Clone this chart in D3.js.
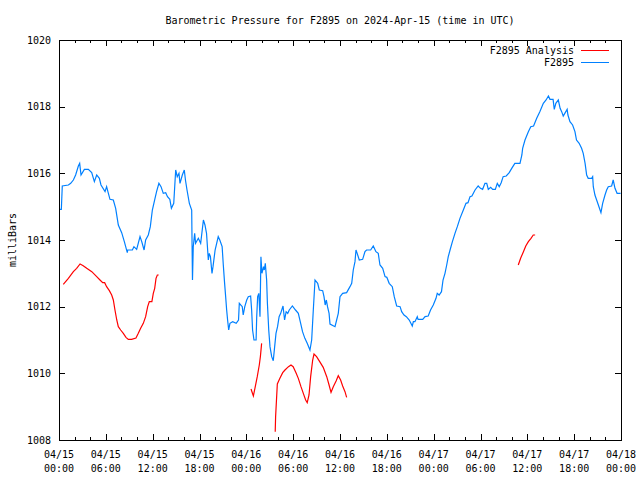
<!DOCTYPE html>
<html>
<head>
<meta charset="utf-8">
<script src="https://cdn.jsdelivr.net/npm/d3@7"></script>
<style>
  body { margin: 0; background: #fff; }
  svg text { font-family: "DejaVu Sans Mono", "Liberation Mono", monospace; font-size: 10px; fill: #000; }
</style>
</head>
<body>
<main></main>
<script>
// hours after 2024-04-15 00:00 UTC
const stationHours = [0,0.3,0.42,1.2,1.5,1.84,2.13,2.48,2.65,2.82,3.25,3.76,4.19,4.53,4.83,5.17,5.38,5.9,6.1,6.3,6.53,6.96,7.26,7.6,8.03,8.37,8.75,8.8,9.4,9.6,9.95,10.38,10.6,10.9,11.1,11.44,11.7,11.96,12.3,12.5,12.8,13.07,13.36,13.67,13.9,14.2,14.4,14.7,14.95,15.15,15.37,15.5,15.8,16.05,16.2,16.4,16.7,17.0,17.05,17.1,17.2,17.38,17.5,17.85,18.15,18.5,18.7,18.9,19.13,19.25,19.4,19.6,19.73,20.0,20.4,20.6,20.9,21.05,21.2,21.35,21.48,21.6,21.74,21.9,22.25,22.7,23.0,23.1,23.48,23.6,23.8,24.05,24.25,24.55,24.68,24.8,24.98,25.25,25.33,25.45,25.6,25.75,25.87,26.0,26.2,26.3,26.43,26.6,26.7,26.87,27.03,27.25,27.45,27.63,27.8,28.0,28.2,28.4,28.7,28.9,29.1,29.3,29.5,29.9,30.3,30.66,30.96,31.2,31.5,31.8,32.15,32.37,32.58,32.8,33.14,33.35,33.78,33.95,34.1,34.25,34.4,34.6,34.72,35.36,35.57,35.78,36.0,36.34,36.85,37.28,37.5,37.7,37.92,38.05,38.2,38.47,38.9,39.2,39.4,39.93,40.26,40.4,40.6,40.9,41.12,41.47,41.77,42.0,42.3,42.7,42.95,43.26,43.7,43.9,44.2,44.5,44.87,45.26,45.4,45.6,45.9,46.0,46.6,46.9,47.3,47.6,47.95,48.3,48.46,48.7,49.0,49.2,49.45,49.67,49.87,50.1,50.4,50.73,51.03,51.37,51.8,52.14,52.4,52.66,52.9,53.3,53.7,54.0,54.27,54.57,54.8,55.0,55.3,55.56,55.9,56.15,56.4,56.65,56.9,57.3,57.68,58.0,58.4,59.06,59.3,59.4,59.7,60.13,60.44,60.8,61.2,61.6,62.05,62.4,62.7,62.9,63.3,63.45,63.65,63.97,64.2,64.4,64.6,64.8,65.1,65.2,65.46,65.8,66.1,66.3,66.64,66.95,67.16,67.4,67.6,67.8,68.24,68.37,68.45,68.66,68.88,69.1,69.43,69.65,69.95,70.16,70.37,70.8,71.0,71.23,71.5,71.95];
const stationValues = [1014.92,1014.92,1015.62,1015.65,1015.7,1015.8,1015.95,1016.22,1016.3,1015.95,1016.12,1016.12,1016.02,1015.75,1015.95,1015.85,1015.65,1015.45,1015.6,1015.42,1015.22,1015.2,1014.95,1014.45,1014.22,1013.95,1013.62,1013.7,1013.7,1013.8,1013.72,1014.1,1013.95,1013.7,1014.0,1014.15,1014.4,1014.9,1015.25,1015.45,1015.7,1015.6,1015.4,1015.42,1015.3,1015.22,1014.95,1015.1,1016.1,1015.9,1016.0,1015.7,1015.95,1016.1,1015.8,1015.5,1015.1,1014.9,1013.8,1012.8,1013.8,1014.2,1013.9,1014.05,1013.9,1014.6,1014.45,1014.2,1013.4,1013.6,1013.5,1013.0,1013.2,1013.7,1014.1,1014.0,1013.8,1013.25,1012.75,1012.3,1011.9,1011.6,1011.3,1011.5,1011.55,1011.5,1011.6,1012.1,1012.0,1011.75,1012.0,1012.2,1012.3,1012.32,1011.9,1011.3,1011.0,1011.0,1011.7,1012.3,1012.4,1011.7,1013.5,1013.0,1013.2,1013.1,1013.3,1012.8,1012.1,1011.3,1010.8,1010.5,1010.38,1010.8,1011.2,1011.4,1011.7,1011.8,1012.02,1011.6,1011.85,1011.8,1011.9,1012.02,1011.9,1011.8,1011.5,1011.25,1011.05,1010.9,1010.7,1011.0,1011.9,1012.8,1012.7,1012.5,1012.48,1012.3,1012.05,1012.2,1012.0,1011.8,1011.48,1011.4,1011.6,1011.8,1012.3,1012.4,1012.42,1012.6,1012.7,1013.1,1013.35,1013.7,1013.6,1013.4,1013.42,1013.65,1013.7,1013.7,1013.82,1013.75,1013.65,1013.6,1013.25,1013.15,1012.9,1012.88,1012.7,1012.6,1012.3,1012.02,1012.0,1011.85,1011.75,1011.7,1011.6,1011.42,1011.55,1011.55,1011.7,1011.62,1011.62,1011.7,1011.72,1011.9,1012.05,1012.25,1012.4,1012.35,1012.45,1012.8,1013.0,1013.25,1013.5,1013.7,1013.95,1014.2,1014.4,1014.65,1014.9,1015.1,1015.12,1015.3,1015.32,1015.5,1015.62,1015.55,1015.52,1015.7,1015.7,1015.52,1015.58,1015.52,1015.52,1015.7,1015.6,1015.72,1015.9,1015.92,1016.02,1016.15,1016.3,1016.3,1016.55,1016.75,1017.0,1017.25,1017.4,1017.42,1017.65,1017.85,1018.1,1018.2,1018.32,1018.22,1018.22,1017.92,1018.1,1018.2,1017.95,1017.85,1017.72,1017.8,1017.92,1017.75,1017.55,1017.45,1017.25,1017.0,1016.9,1016.75,1016.6,1016.3,1015.95,1015.85,1015.85,1015.9,1015.6,1015.35,1015.2,1015.05,1014.82,1015.1,1015.35,1015.5,1015.6,1015.62,1015.8,1015.55,1015.4,1015.4];

// analysis series, null marks a gap
const analysisHours = [0.55,1.2,1.84,2.26,2.7,3.1,3.55,4.2,4.83,5.25,5.6,5.85,6.1,6.45,6.75,6.96,7.17,7.4,7.6,7.9,8.24,8.58,8.88,9.3,9.86,10.16,10.46,10.8,11.1,11.36,11.57,11.9,12.08,12.26,12.43,12.6,12.77,
  13,
  24.6,24.9,25.1,25.4,25.66,25.8,25.96,
  26.5,
  27.7,27.75,27.97,28.3,28.66,28.95,29.4,29.72,30.0,30.36,30.66,31.0,31.3,31.6,31.8,32.03,32.24,32.5,32.67,33.0,33.4,33.85,34.3,34.6,34.85,35.14,35.5,35.78,36.08,36.34,36.64,36.85,
  37,
  58.84,59.14,59.5,59.8,60.13,60.47,60.76,61.0];
const analysisValues = [1012.67,1012.85,1013.05,1013.15,1013.28,1013.23,1013.15,1013.05,1012.9,1012.8,1012.72,1012.72,1012.6,1012.48,1012.35,1012.2,1011.9,1011.6,1011.4,1011.3,1011.2,1011.08,1011.02,1011.02,1011.06,1011.2,1011.35,1011.5,1011.7,1012.0,1012.15,1012.15,1012.4,1012.55,1012.85,1012.95,1012.95,
  null,
  1009.53,1009.32,1009.55,1009.9,1010.25,1010.5,1010.9,
  null,
  1008.25,1008.7,1009.68,1009.85,1010.02,1010.1,1010.2,1010.25,1010.2,1010.02,1009.85,1009.6,1009.4,1009.2,1009.12,1009.35,1009.9,1010.4,1010.58,1010.5,1010.35,1010.18,1009.9,1009.65,1009.43,1009.6,1009.77,1009.93,1009.8,1009.62,1009.45,1009.28,
  null,
  1013.25,1013.45,1013.65,1013.82,1013.95,1014.05,1014.15,1014.15];

const yTicks = [1008, 1010, 1012, 1014, 1016, 1018, 1020];
const seriesNames = ["F2895 Analysis", "F2895"];
const seriesColors = ["#ff0000", "#0080ff"];

const w = 640;
const h = 480;
const margin = { top: 40, right: 19, bottom: 40, left: 59 };
const start = Date.UTC(2024, 3, 15);
const toDate = hr => new Date(start + hr * 3600000);

const svg = d3.select("main")
  .append("svg")
  .attr("width", w)
  .attr("height", h);

const x = d3.scaleUtc()
  .domain([toDate(0), toDate(72)])
  .range([margin.left, w - margin.right]);

const y = d3.scaleLinear()
  .domain([1008, 1020])
  .range([h - margin.bottom, margin.top]);

const majorTicks = x.ticks(d3.utcHour.every(6));
const minorTicks = x.ticks(d3.utcHour.every(2)).filter(d => d.getUTCHours() % 6 !== 0);

const axes = svg.append("g")
  .attr("stroke", "#000")
  .attr("shape-rendering", "crispEdges");

// inward ticks on all four sides, like the original plot
[[majorTicks, 6], [minorTicks, 3]].forEach(([ticks, len]) => {
  axes.selectAll(null)
    .data(ticks)
    .enter()
    .append("line")
    .attr("x1", d => Math.round(x(d)) + 0.5)
    .attr("x2", d => Math.round(x(d)) + 0.5)
    .attr("y1", h - margin.bottom)
    .attr("y2", h - margin.bottom - len);
  axes.selectAll(null)
    .data(ticks)
    .enter()
    .append("line")
    .attr("x1", d => Math.round(x(d)) + 0.5)
    .attr("x2", d => Math.round(x(d)) + 0.5)
    .attr("y1", margin.top)
    .attr("y2", margin.top + len);
});

axes.selectAll(null)
  .data(yTicks)
  .enter()
  .append("line")
  .attr("x1", margin.left)
  .attr("x2", margin.left + 6)
  .attr("y1", d => Math.round(y(d)) + 0.5)
  .attr("y2", d => Math.round(y(d)) + 0.5);

axes.selectAll(null)
  .data(yTicks)
  .enter()
  .append("line")
  .attr("x1", w - margin.right)
  .attr("x2", w - margin.right - 6)
  .attr("y1", d => Math.round(y(d)) + 0.5)
  .attr("y2", d => Math.round(y(d)) + 0.5);

svg.selectAll(".ylabel")
  .data(yTicks)
  .enter()
  .append("text")
  .attr("class", "ylabel")
  .attr("x", margin.left - 8)
  .attr("y", d => y(d))
  .attr("dy", "0.35em")
  .style("text-anchor", "end")
  .text(d => d);

const xLabels = svg.selectAll(".xlabel")
  .data(majorTicks)
  .enter()
  .append("text")
  .attr("class", "xlabel")
  .attr("x", d => x(d))
  .attr("y", h - margin.bottom + 18)
  .style("text-anchor", "middle");

xLabels.append("tspan")
  .attr("x", d => x(d))
  .text(d3.utcFormat("%m/%d"));

xLabels.append("tspan")
  .attr("x", d => x(d))
  .attr("dy", 14)
  .text(d3.utcFormat("%H:%M"));

const line = d3.line()
  .defined(d => d[1] !== null)
  .x(d => x(toDate(d[0])))
  .y(d => y(d[1]));

svg.append("path")
  .datum(analysisHours.map((hr, i) => [hr, analysisValues[i]]))
  .attr("fill", "none")
  .attr("stroke", seriesColors[0])
  .attr("stroke-width", 1.2)
  .attr("d", line);

svg.append("path")
  .datum(stationHours.map((hr, i) => [hr, stationValues[i]]))
  .attr("fill", "none")
  .attr("stroke", seriesColors[1])
  .attr("stroke-width", 1.2)
  .attr("d", line);

svg.append("rect")
  .attr("x", margin.left + 0.5)
  .attr("y", margin.top + 0.5)
  .attr("width", w - margin.left - margin.right)
  .attr("height", h - margin.top - margin.bottom)
  .attr("fill", "none")
  .attr("stroke", "#000")
  .attr("shape-rendering", "crispEdges");

const legend = svg.selectAll(".legend")
  .data(seriesNames)
  .enter()
  .append("g")
  .attr("class", "legend")
  .attr("transform", (d, i) => `translate(0,${50.5 + i * 12})`);

legend.append("text")
  .attr("x", 574)
  .attr("dy", "0.35em")
  .style("text-anchor", "end")
  .text(d => d);

legend.append("line")
  .attr("x1", 581)
  .attr("x2", 609)
  .attr("stroke", (d, i) => seriesColors[i])
  .attr("shape-rendering", "crispEdges");

svg.append("text")
  .attr("x", 340)
  .attr("y", 20)
  .attr("dy", "0.35em")
  .style("text-anchor", "middle")
  .text("Barometric Pressure for F2895 on 2024-Apr-15 (time in UTC)");

svg.append("text")
  .attr("transform", `translate(12,${(margin.top + h - margin.bottom) / 2}) rotate(-90)`)
  .attr("dy", "0.35em")
  .style("text-anchor", "middle")
  .text("milliBars");
</script>
</body>
</html>
